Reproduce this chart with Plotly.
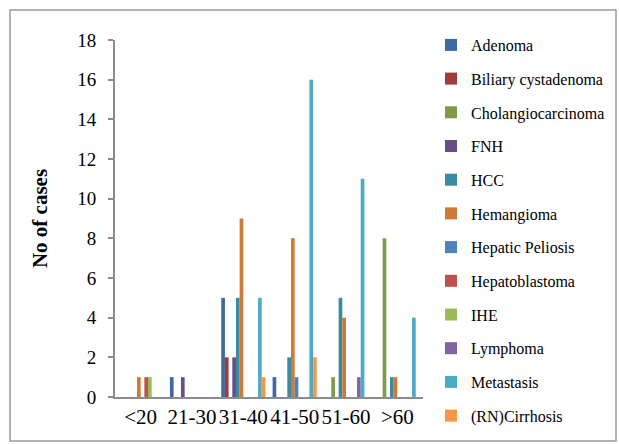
import plotly.graph_objects as go

categories = ["<20", "21-30", "31-40", "41-50", "51-60", ">60"]

series_names = ["Adenoma", "Biliary cystadenoma", "Cholangiocarcinoma", "FNH", "HCC",
                "Hemangioma", "Hepatic Peliosis", "Hepatoblastoma", "IHE", "Lymphoma",
                "Metastasis", "(RN)Cirrhosis"]

adenoma = [0, 1, 5, 1, 0, 0]
biliary_cystadenoma = [0, 0, 2, 0, 0, 0]
cholangiocarcinoma = [0, 0, 0, 0, 1, 8]
fnh = [0, 1, 2, 0, 0, 0]
hcc = [0, 0, 5, 2, 5, 1]
hemangioma = [1, 0, 9, 8, 4, 1]
hepatic_peliosis = [0, 0, 0, 1, 0, 0]
hepatoblastoma = [1, 0, 0, 0, 0, 0]
ihe = [1, 0, 0, 0, 0, 0]
lymphoma = [0, 0, 0, 0, 1, 0]
metastasis = [0, 0, 5, 16, 11, 4]
rn_cirrhosis = [0, 0, 1, 2, 0, 0]

series_values = [adenoma, biliary_cystadenoma, cholangiocarcinoma, fnh, hcc, hemangioma,
                 hepatic_peliosis, hepatoblastoma, ihe, lymphoma, metastasis, rn_cirrhosis]

colors = ["#3E69A1", "#9E3D3B", "#7F9A48", "#664E86", "#3A8BA1", "#CF7A39",
          "#4F81BD", "#C0504D", "#9BBB59", "#8064A2", "#4BACC6", "#F79646"]

y_ticks = [0, 2, 4, 6, 8, 10, 12, 14, 16, 18]

FONT = "Liberation Serif, Times New Roman, serif"

fig = go.Figure()
for i, (name, vals) in enumerate(zip(series_names, series_values)):
    fig.add_trace(go.Bar(x=categories, y=vals, name=name, marker_color=colors[i],
                         marker_line_width=0, legendgroup=name))

W, H = 619, 444
L, R, T, B = 115, 423, 40, 397

def px2paper_x(px):
    return (px - L) / (R - L)

def px2paper_y(py):
    return (B - py) / (B - T)

fig.update_layout(
    width=W, height=H,
    margin=dict(l=L, r=W - R, t=T, b=H - B, autoexpand=False),
    paper_bgcolor="white", plot_bgcolor="white",
    barmode="group", bargap=0.14, bargroupgap=0,
    font=dict(family=FONT, color="black"),
    showlegend=True,
    legend=dict(x=px2paper_x(431), y=px2paper_y(28), xanchor="left", yanchor="top",
                font=dict(family=FONT, size=16, color="black"),
                tracegroupgap=9.9, itemwidth=30, bgcolor="rgba(0,0,0,0)",
                maxheight=430),
    xaxis=dict(showgrid=False, showline=True, linecolor="#8C8C8C", linewidth=2,
               ticks="", tickangle=0, tickfont=dict(family=FONT, size=21),
               fixedrange=True),
    yaxis=dict(range=[0, 18], tickvals=y_ticks, showgrid=False, showline=True,
               linecolor="#8C8C8C", linewidth=2, ticks="outside", ticklen=5,
               tickcolor="#8C8C8C", tickwidth=1.5, tickfont=dict(family=FONT, size=19),
               ticklabelstandoff=8, zeroline=False,
               title=dict(text="<b>No of cases</b>", font=dict(family=FONT, size=21),
                          standoff=24)),
    shapes=[dict(type="rect", xref="paper", yref="paper",
                 x0=px2paper_x(10), x1=px2paper_x(616),
                 y0=px2paper_y(441), y1=px2paper_y(10),
                 line=dict(color="#9A9A9A", width=1.5), fillcolor="rgba(0,0,0,0)",
                 layer="below")],
)

fig.write_html("out.html")
